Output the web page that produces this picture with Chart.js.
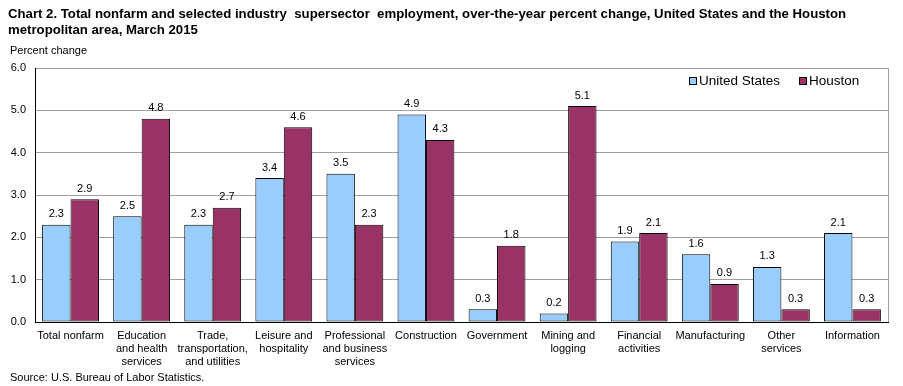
<!DOCTYPE html>
<html>
<head>
<meta charset="utf-8">
<script src="https://cdn.jsdelivr.net/npm/chart.js@4.4.1/dist/chart.umd.min.js"></script>
<style>
  html, body { margin: 0; padding: 0; background: #fff; }
  #wrap { position: relative; width: 903px; height: 386px; font-family: "Liberation Sans", Arial, sans-serif; }
  #title { position: absolute; left: 8px; top: 6px; font-size: 13.2px; font-weight: bold; line-height: 16px; white-space: pre; color: #000; }
  #ylab { position: absolute; left: 10px; top: 44px; font-size: 11px; color: #000; }
  #source { position: absolute; left: 10px; top: 371px; font-size: 11px; color: #000; }
  canvas { position: absolute; left: 0; top: 0; }
</style>
</head>
<body>
<div id="wrap">
  <canvas id="c" width="903" height="386"></canvas>
  <div id="title">Chart 2. Total nonfarm and selected industry  supersector  employment, over-the-year percent change, United States and the Houston
metropolitan area, March 2015</div>
  <div id="ylab">Percent change</div>
  <div id="source">Source: U.S. Bureau of Labor Statistics.</div>
</div>
<script>
const categories = [
  ["Total nonfarm"],
  ["Education", "and health", "services"],
  ["Trade,", "transportation,", "and utilities"],
  ["Leisure and", "hospitality"],
  ["Professional", "and business", "services"],
  ["Construction"],
  ["Government"],
  ["Mining and", "logging"],
  ["Financial", "activities"],
  ["Manufacturing"],
  ["Other", "services"],
  ["Information"]
];
const seriesNames = ["United States", "Houston"];
const usValues = [2.3, 2.5, 2.3, 3.4, 3.5, 4.9, 0.3, 0.2, 1.9, 1.6, 1.3, 2.1];
const houstonValues = [2.9, 4.8, 2.7, 4.6, 2.3, 4.3, 1.8, 5.1, 2.1, 0.9, 0.3, 0.3];
const yTicks = [0, 1, 2, 3, 4, 5, 6];

const FONT = "'Liberation Sans', Arial, sans-serif";
const colors = ["#99CCFF", "#993366"];

const labelPlugin = {
  id: 'customDraw',
  afterDatasetsDraw(chart) {
    const ctx = chart.ctx;
    ctx.save();
    ctx.font = "11px " + FONT;
    ctx.fillStyle = "#000";
    ctx.textAlign = "center";
    ctx.textBaseline = "bottom";
    chart.data.datasets.forEach((ds, di) => {
      const meta = chart.getDatasetMeta(di);
      meta.data.forEach((bar, i) => {
        ctx.fillText(ds.data[i].toFixed(1), bar.x, bar.y - 5);
      });
    });
    // right border
    const a = chart.chartArea;
    ctx.strokeStyle = "#a0a0a0";
    ctx.lineWidth = 1;
    ctx.beginPath();
    ctx.moveTo(Math.round(a.right) + 0.5, a.top);
    ctx.lineTo(Math.round(a.right) + 0.5, a.bottom);
    ctx.stroke();
    // legend
    const items = [{x: 689, name: seriesNames[0], c: colors[0]}, {x: 799, name: seriesNames[1], c: colors[1]}];
    ctx.font = "13.5px " + FONT;
    ctx.textAlign = "left";
    ctx.textBaseline = "middle";
    items.forEach(it => {
      ctx.fillStyle = it.c;
      ctx.fillRect(it.x + 0.5, 77.5, 7, 7);
      ctx.strokeStyle = "#000";
      ctx.strokeRect(it.x + 0.5, 77.5, 7, 7);
      ctx.fillStyle = "#000";
      ctx.fillText(it.name, it.x + 10, 81.5);
    });
    ctx.restore();
  }
};

new Chart(document.getElementById('c'), {
  type: 'bar',
  data: {
    labels: categories,
    datasets: [
      { label: seriesNames[0], data: usValues, backgroundColor: colors[0], borderColor: "#000", borderWidth: 1, borderSkipped: false, categoryPercentage: 0.8, barPercentage: 1.0 },
      { label: seriesNames[1], data: houstonValues, backgroundColor: colors[1], borderColor: "#000", borderWidth: 1, borderSkipped: false, categoryPercentage: 0.8, barPercentage: 1.0 }
    ]
  },
  options: {
    responsive: false,
    animation: false,
    devicePixelRatio: 1,
    layout: { padding: { left: 0, right: 15, top: 68, bottom: 0 } },
    plugins: { legend: { display: false }, tooltip: { enabled: false }, title: { display: false } },
    scales: {
      x: {
        grid: { display: false, drawTicks: false },
        border: { color: "#000", width: 1 },
        ticks: { color: "#000", font: { family: FONT, size: 11 }, padding: 7, maxRotation: 0, autoSkip: false },
        afterFit(s) { s.height = 64; }
      },
      y: {
        min: 0, max: 6,
        afterBuildTicks(s) { s.ticks = yTicks.map(v => ({ value: v })); },
        grid: { color: "#a0a0a0", drawTicks: false },
        border: { color: "#000", width: 1 },
        ticks: { color: "#000", font: { family: FONT, size: 11 }, padding: 9, callback: v => Number(v).toFixed(1) },
        afterFit(s) { s.width = 35; }
      }
    }
  },
  plugins: [labelPlugin]
});
</script>
</body>
</html>
